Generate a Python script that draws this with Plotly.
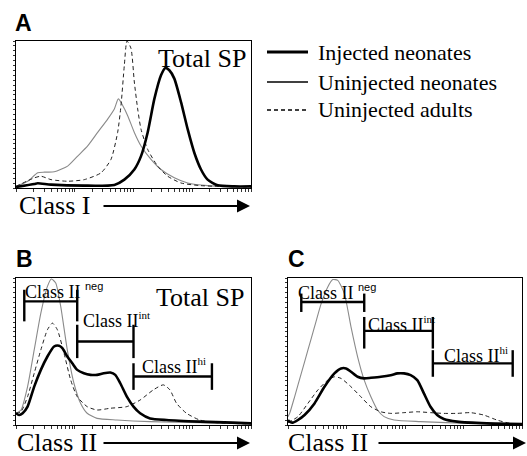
import numpy as np
import plotly.graph_objects as go

# ---------------- data (x in log decades 0..4, y relative count) ----------------
a_inj_x = [0, .312, .369, .596, 1.163, 1.674, 1.844, 2.014, 2.128, 2.241, 2.355, 2.468, 2.542, 2.610, 2.695, 2.809, 2.922, 3.035, 3.149, 3.262, 3.433, 3.716, 4.0]
a_inj_y = [.007, .027, .032, .023, .016, .021, .057, .126, .217, .378, .606, .767, .817, .801, .744, .584, .400, .240, .126, .057, .018, .011, .011]
a_unn_x = [0, .199, .369, .482, .652, .879, 1.050, 1.220, 1.390, 1.560, 1.674, 1.742, 1.816, 1.901, 2.014, 2.128, 2.298, 2.468, 2.695, 2.922, 3.262, 4.0]
a_unn_y = [.011, .046, .103, .108, .110, .149, .217, .286, .378, .469, .538, .606, .561, .492, .378, .286, .195, .126, .069, .034, .016, .007]
a_ad_x = [0, .312, .426, .596, .879, 1.163, 1.447, 1.617, 1.730, 1.787, 1.844, 1.889, 1.957, 2.014, 2.071, 2.128, 2.241, 2.411, 2.582, 2.809, 3.149, 4.0]
a_ad_y = [.011, .069, .080, .057, .046, .057, .103, .195, .378, .561, .835, 1.0, .950, .721, .538, .400, .263, .149, .080, .034, .016, .007]

b_inj_x = [0, .056, .113, .197, .310, .423, .535, .648, .732, .789, .873, .958, 1.042, 1.155, 1.268, 1.380, 1.493, 1.606, 1.690, 1.775, 1.887, 2.0, 2.113, 2.282, 2.563, 3.127, 3.690, 4.0]
b_inj_y = [.080, .068, .080, .125, .261, .375, .466, .534, .539, .523, .466, .420, .375, .352, .341, .341, .352, .357, .341, .284, .193, .125, .080, .045, .034, .023, .016, .011]
b_unn_x = [0, .085, .197, .310, .423, .535, .603, .676, .761, .873, .986, 1.099, 1.211, 1.380, 1.718, 2.282, 3.127, 4.0]
b_unn_y = [.080, .102, .261, .511, .761, .943, .993, .966, .807, .511, .284, .148, .080, .045, .034, .023, .016, .007]
b_ad_x = [0, .085, .197, .310, .423, .535, .620, .704, .817, .930, 1.042, 1.211, 1.380, 1.606, 1.887, 2.113, 2.338, 2.507, 2.620, 2.732, 2.901, 3.127, 3.408, 4.0]
b_ad_y = [.080, .091, .193, .352, .511, .648, .693, .648, .489, .307, .193, .125, .102, .114, .125, .170, .239, .273, .239, .148, .080, .034, .016, .007]

c_inj_x = [0, .028, .085, .170, .283, .453, .623, .793, .907, .992, 1.077, 1.190, 1.303, 1.417, 1.587, 1.756, 1.870, 1.983, 2.096, 2.210, 2.323, 2.436, 2.550, 2.663, 2.890, 3.400, 4.0]
c_inj_y = [.034, .023, .016, .034, .068, .147, .260, .351, .385, .385, .362, .328, .317, .321, .328, .339, .351, .351, .339, .305, .215, .124, .068, .041, .023, .011, .007]
c_unn_x = [0, .028, .113, .227, .340, .453, .567, .680, .765, .850, .963, 1.077, 1.190, 1.303, 1.417, 1.530, 1.643, 1.813, 2.266, 3.116, 4.0]
c_unn_y = [.057, .079, .192, .351, .509, .667, .826, .939, .989, .984, .894, .667, .464, .305, .192, .102, .057, .034, .023, .011, .005]
c_ad_x = [0, .170, .340, .510, .680, .793, .907, 1.077, 1.246, 1.417, 1.587, 1.756, 1.983, 2.210, 2.436, 2.663, 2.890, 3.116, 3.343, 3.570, 3.796, 4.0]
c_ad_y = [.016, .057, .147, .238, .305, .328, .317, .260, .192, .124, .090, .079, .084, .090, .084, .079, .079, .084, .068, .034, .011, .005]

# gates: [start, end, bar height, tick low, tick high]
gate_names = ["neg", "int", "hi"]
b_gates = [[.141, 1.042, .841, .705, .920], [1.042, 2.0, .568, .455, .682], [2.0, 3.335, .330, .239, .420]]
c_gates = [[.227, 1.303, .837, .769, .894], [1.303, 2.476, .640, .520, .735], [2.476, 3.841, .419, .328, .509]]
b_gate_labels = [[.113, .909], [1.099, .716], [2.113, .398]]
c_gate_labels = [[.142, .905], [1.331, .690], [2.635, .475]]

series_names = ["Injected neonates", "Uninjected neonates", "Uninjected adults"]

# ---------------- styling ----------------
SERIF = "Liberation Serif"
SANS = "Liberation Sans"
styles = [dict(color="black", width=2.6),
          dict(color="#8a8a8a", width=1.1),
          dict(color="#222222", width=1.0, dash="4px,3px")]

fig = go.Figure()

panels = [
    ("x", "y", [(a_inj_x, a_inj_y), (a_unn_x, a_unn_y), (a_ad_x, a_ad_y)]),
    ("x2", "y2", [(b_inj_x, b_inj_y), (b_unn_x, b_unn_y), (b_ad_x, b_ad_y)]),
    ("x3", "y3", [(c_inj_x, c_inj_y), (c_unn_x, c_unn_y), (c_ad_x, c_ad_y)]),
]
for xa, ya, series in panels:
    for i in (1, 2, 0):
        sx, sy = series[i]
        fig.add_trace(go.Scatter(x=sx, y=sy, mode="lines", xaxis=xa, yaxis=ya,
                                 line=dict(shape="spline", smoothing=0.6, **styles[i]),
                                 showlegend=False, hoverinfo="skip"))

# gates as line traces
for xa, ya, gates in (("x2", "y2", b_gates), ("x3", "y3", c_gates)):
    gx, gy = [], []
    for g0, g1, h, lo, hi in gates:
        gx += [g0, g1, None, g0, g0, None, g1, g1, None]
        gy += [h, h, None, lo, hi, None, lo, hi, None]
    fig.add_trace(go.Scatter(x=gx, y=gy, mode="lines", xaxis=xa, yaxis=ya,
                             line=dict(color="black", width=2.4),
                             showlegend=False, hoverinfo="skip"))

W, H = 527, 456
def px(v): return v / W
def py(v): return 1 - v / H

xticks = [d + np.log10(m) for d in range(4) for m in range(1, 10)] + [4]
common_x = dict(range=[0, 4], showgrid=False, zeroline=False, showline=True, mirror=True,
                linecolor="black", linewidth=1, ticks="outside", ticklen=3, tickwidth=1,
                tickcolor="#333", tickvals=xticks, showticklabels=False)
common_y = dict(range=[0, 1.0], showgrid=False, zeroline=False, showline=True, mirror=True,
                linecolor="black", linewidth=1, ticks="outside", ticklen=2.5, tickwidth=1,
                tickcolor="#333", dtick=1 / 30, tick0=0, showticklabels=False)

fig.update_layout(
    width=W, height=H, margin=dict(l=0, r=0, t=0, b=0),
    paper_bgcolor="white", plot_bgcolor="white", showlegend=False,
    xaxis=dict(domain=[px(16), px(251)], anchor="y", **common_x),
    yaxis=dict(domain=[py(188), py(41)], anchor="x", **common_y),
    xaxis2=dict(domain=[px(16), px(251)], anchor="y2", **common_x),
    yaxis2=dict(domain=[py(425), py(278)], anchor="x2", **common_y),
    xaxis3=dict(domain=[px(288), px(522)], anchor="y3", **common_x),
    yaxis3=dict(domain=[py(425), py(278)], anchor="x3", **common_y),
)

ann = []
# panel letters
for letter, x0, y0 in (("A", 13, 23), ("B", 14, 259), ("C", 286, 259)):
    ann.append(dict(text=f"<b>{letter}</b>", x=px(x0), y=py(y0), xref="paper", yref="paper",
                    xanchor="left", yanchor="middle", showarrow=False,
                    font=dict(family=SANS, size=23, color="black")))
# panel titles
ann.append(dict(text="Total SP", x=3.95, y=.88, xref="x", yref="y", xanchor="right", yanchor="middle",
                showarrow=False, font=dict(family=SERIF, size=26, color="black")))
ann.append(dict(text="Total SP", x=3.92, y=.87, xref="x2", yref="y2", xanchor="right", yanchor="middle",
                showarrow=False, font=dict(family=SERIF, size=26, color="black")))
ann.append(dict(text="F4/80<sup>+</sup>", x=4.08, y=.87, xref="x3", yref="y3", xanchor="right", yanchor="middle",
                showarrow=False, font=dict(family=SERIF, size=26, color="black")))
# gate labels
for xa, ya, labels in (("x2", "y2", b_gate_labels), ("x3", "y3", c_gate_labels)):
    for name, (lx, ly) in zip(gate_names, labels):
        if name == "neg":
            t = "Class II <sup><span style='font-family:Liberation Sans;font-size:11px'>neg</span></sup>"
        else:
            t = f"Class II<sup><span style='font-size:11px'>{name}</span></sup>"
        ann.append(dict(text=t, x=lx, y=ly, xref=xa, yref=ya, xanchor="left", yanchor="middle",
                        showarrow=False, font=dict(family=SERIF, size=18, color="black")))
# axis labels with arrows
for txt, tx, ty, ax0, ax1 in (("Class I", 18, 205, 102, 250), ("Class II", 16, 442, 102, 250),
                               ("Class II", 287, 442, 377, 526)):
    ann.append(dict(text=txt, x=px(tx), y=py(ty), xref="paper", yref="paper", xanchor="left",
                    yanchor="middle", showarrow=False, borderpad=0,
                    font=dict(family=SERIF, size=26, color="black")))
    ann.append(dict(text="", x=px(ax1), y=py(ty + 1), xref="paper", yref="paper", ax=-(ax1 - ax0), ay=0,
                    axref="pixel", ayref="pixel", showarrow=True, arrowhead=2, arrowsize=1.3,
                    arrowwidth=2, arrowcolor="black", standoff=0))
# legend (text)
legend_y = [52, 82, 110]
for name, ly in zip(series_names, legend_y):
    ann.append(dict(text=name, x=px(316), y=py(ly), xref="paper", yref="paper", xanchor="left",
                    yanchor="middle", showarrow=False, font=dict(family=SERIF, size=22, color="black")))
fig.update_layout(annotations=ann)

# legend sample lines
leg_styles = [dict(color="black", width=3), dict(color="black", width=1.5),
              dict(color="black", width=1.3, dash="4px,3px")]
shapes = []
for st, ly in zip(leg_styles, legend_y):
    shapes.append(dict(type="line", xref="paper", yref="paper", x0=px(267), x1=px(308),
                       y0=py(ly), y1=py(ly), line=st))
fig.update_layout(shapes=shapes)

fig.write_html("out.html", config={"displayModeBar": False},
               post_script="document.body.style.margin='0px';document.body.style.overflow='hidden';")
